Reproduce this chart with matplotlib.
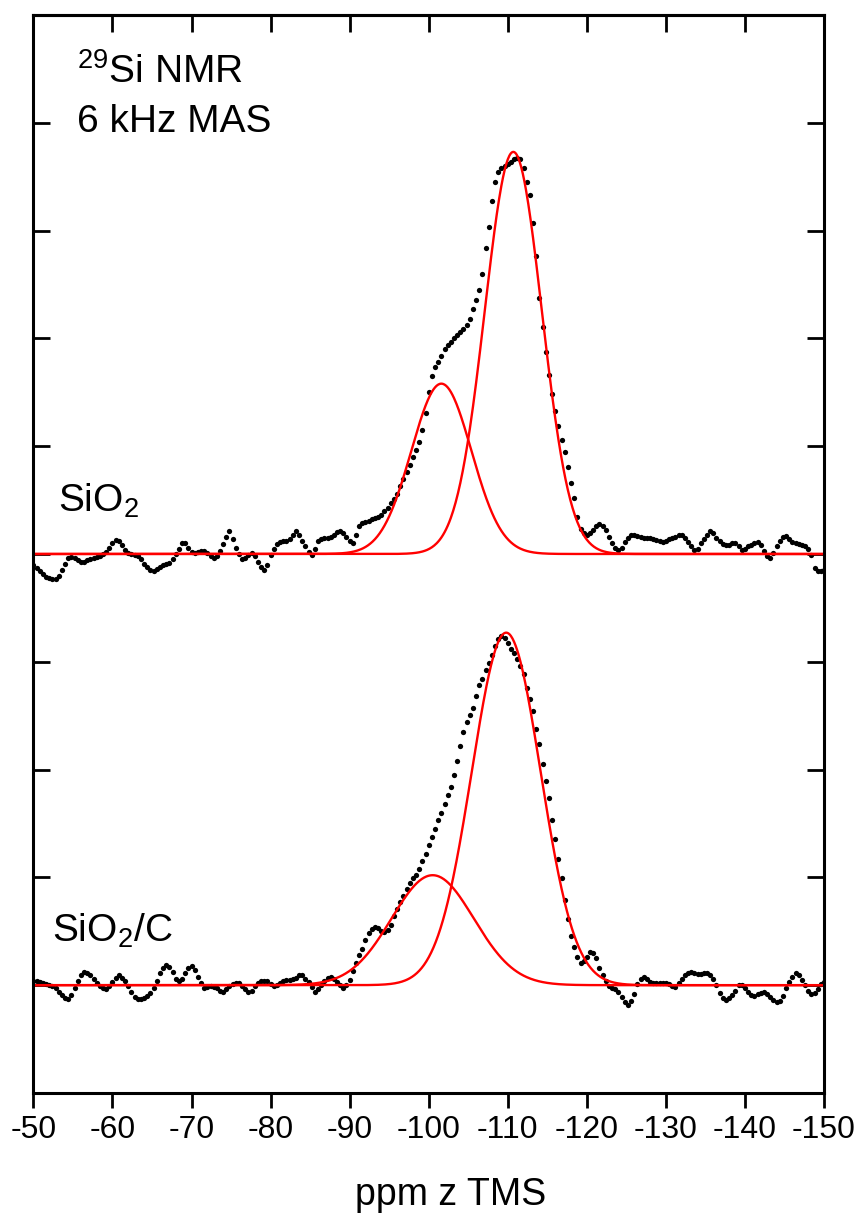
import numpy as np
import matplotlib
matplotlib.use("Agg")
import matplotlib.pyplot as plt

plt.rcParams['font.family'] = ['Liberation Sans', 'DejaVu Sans']
plt.rcParams['mathtext.fontset'] = 'custom'
plt.rcParams['mathtext.rm'] = 'Liberation Sans'

# chemical shift grid (ppm), one point every 0.4 ppm from -50 to -150
ppm = np.linspace(-50, -150, 251)

sio2 = [
    -10, -13, -16, -19, -21, -22, -23, -23, -20, -15,
    -9, -4, -3, -4, -6, -7, -7, -6, -5, -4,
    -3, -2, 0, 2, 6, 10, 13, 12, 8, 4,
    1, 0, -1, -2, -5, -9, -12, -15, -16, -14,
    -12, -10, -9, -8, -5, 0, 5, 10, 10, 6,
    2, 1, 2, 3, 3, 1, -2, -4, -2, 3,
    9, 16, 21, 14, 6, 0, -5, -4, -1, 1,
    -2, -7, -12, -15, -10, -1, 5, 9, 11, 12,
    12, 14, 18, 21, 18, 12, 7, 2, -1, 5,
    12, 14, 15, 15, 16, 18, 20, 21, 19, 16,
    12, 10, 18, 26, 29, 30, 31, 32, 33, 34,
    36, 40, 43, 47, 51, 56, 63, 70, 76, 83,
    90, 96, 104, 115, 131, 150, 165, 173, 178, 184,
    190, 194, 197, 200, 203, 206, 209, 212, 218, 227,
    236, 245, 260, 284, 303, 327, 345, 354, 358, 360,
    362, 364, 366, 367, 366, 358, 345, 333, 307, 276,
    237, 211, 187, 166, 148, 133, 119, 106, 95, 81,
    66, 52, 34, 23, 19, 18, 19, 22, 26, 28,
    26, 22, 16, 10, 6, 4, 6, 11, 15, 18,
    18, 17, 16, 15, 15, 15, 14, 13, 12, 11,
    12, 14, 15, 16, 18, 18, 15, 11, 7, 4,
    5, 10, 14, 18, 21, 19, 15, 12, 9, 8,
    8, 10, 10, 7, 4, 5, 7, 8, 10, 11,
    8, 3, -2, -4, 1, 7, 12, 16, 17, 14,
    11, 10, 9, 8, 7, 5, -1, -13, -16, -16,
    -15,
]
sio2_c = [
    4, 4, 3, 2, 1, 0, -1, -3, -6, -9,
    -12, -13, -9, -3, 4, 9, 12, 11, 9, 6,
    2, -1, -3, -4, -1, 3, 7, 9, 7, 4,
    -1, -6, -11, -13, -13, -12, -10, -7, -3, 4,
    11, 16, 19, 17, 12, 6, 4, 6, 11, 16,
    18, 14, 8, 2, -3, -2, -1, -2, -3, -5,
    -6, -4, -1, 1, 2, 2, -1, -4, -6, -5,
    -1, 2, 4, 4, 4, 1, -1, 0, 2, 4,
    5, 5, 6, 7, 9, 9, 6, 3, -2, -6,
    -4, 0, 4, 7, 8, 6, 3, 0, -3, 0,
    5, 13, 21, 28, 34, 42, 48, 52, 54, 53,
    50, 49, 51, 56, 64, 71, 77, 83, 89, 95,
    99, 102, 108, 115, 122, 130, 137, 145, 153, 160,
    168, 176, 184, 195, 208, 222, 235, 244, 251, 257,
    268, 278, 284, 292, 299, 306, 315, 321, 324, 322,
    317, 312, 308, 303, 296, 289, 276, 265, 254, 238,
    224, 205, 189, 174, 153, 136, 117, 99, 79, 61,
    46, 35, 26, 21, 22, 26, 31, 30, 25, 16,
    9, 4, -1, -3, -4, -6, -11, -16, -18, -15,
    -8, 1, 6, 8, 6, 3, 2, 2, 2, 2,
    2, 1, -1, -2, 2, 6, 9, 11, 12, 11,
    10, 10, 11, 11, 9, 6, 0, -7, -12, -14,
    -12, -9, -5, 0, 0, -3, -6, -9, -10, -8,
    -7, -6, -8, -11, -14, -16, -15, -10, -3, 3,
    8, 11, 9, 5, 0, -5, -8, -7, -4, 1,
    3,
]

# vertical offsets of the two traces
offset_sio2 = 500
offset_sio2_c = 100

# fitted gaussian components: position (ppm), height, sigma (ppm)
fit_pos_sio2 = [-110.7, -101.6]
fit_height_sio2 = [373, 158]
fit_sigma_sio2 = [3.6, 3.8]
fit_pos_sio2_c = [-109.8, -100.5]
fit_height_sio2_c = [327, 102]
fit_sigma_sio2_c = [4.35, 5.2]

xticks = [-50, -60, -70, -80, -90, -100, -110, -120, -130, -140, -150]

fig = plt.figure(figsize=(8.57, 12.19), dpi=100)
ax = fig.add_axes([0.039, 0.1034, 0.9225, 0.8843])

ax.plot(ppm, np.array(sio2) + offset_sio2, 'o', color='black', ms=3.8, mew=0)
ax.plot(ppm, np.array(sio2_c) + offset_sio2_c, 'o', color='black', ms=3.8, mew=0)

xf = np.linspace(-50, -150, 1001)
for off, pos, hgt, sig in [(offset_sio2, fit_pos_sio2, fit_height_sio2, fit_sigma_sio2),
                           (offset_sio2_c, fit_pos_sio2_c, fit_height_sio2_c, fit_sigma_sio2_c)]:
    for p, h, s in zip(pos, hgt, sig):
        ax.plot(xf, off + h * np.exp(-(xf - p) ** 2 / (2 * s ** 2)), color='#ff0000', lw=1.7)

ax.set_xlim(-50, -150)
ax.set_ylim(0, 1000)
ax.set_xticks(xticks)
ax.set_xticklabels([str(t) for t in xticks])
ax.set_yticks(np.arange(0, 1001, 100))
ax.set_yticklabels([])

ax.tick_params(axis='x', which='major', direction='out', length=11, width=2.0,
               labelsize=23, pad=5, top=False)
ax.tick_params(axis='y', which='major', direction='in', length=12, width=2.0,
               left=True, right=True)
# inward ticks along the top edge
sec = ax.secondary_xaxis('top')
sec.set_xticks(xticks)
sec.tick_params(direction='in', length=12, width=2.0, labeltop=False)
sec.set_xticklabels([])

for sp in ax.spines.values():
    sp.set_linewidth(2.2)
sec.spines['top'].set_linewidth(2.2)

ax.set_xlabel('ppm z TMS', fontsize=27)
ax.xaxis.set_label_coords(0.528, -0.078)

ax.text(-55.5, 937, r'$^\mathregular{29}$Si NMR', fontsize=28, va='baseline')
ax.text(-55.5, 891, '6 kHz MAS', fontsize=28, va='baseline')
ax.text(-53.1, 539, r'SiO$_\mathregular{2}$', fontsize=28, va='baseline')
ax.text(-52.3, 140, r'SiO$_\mathregular{2}$/C', fontsize=28, va='baseline')

fig.savefig('out.png', dpi=100)
